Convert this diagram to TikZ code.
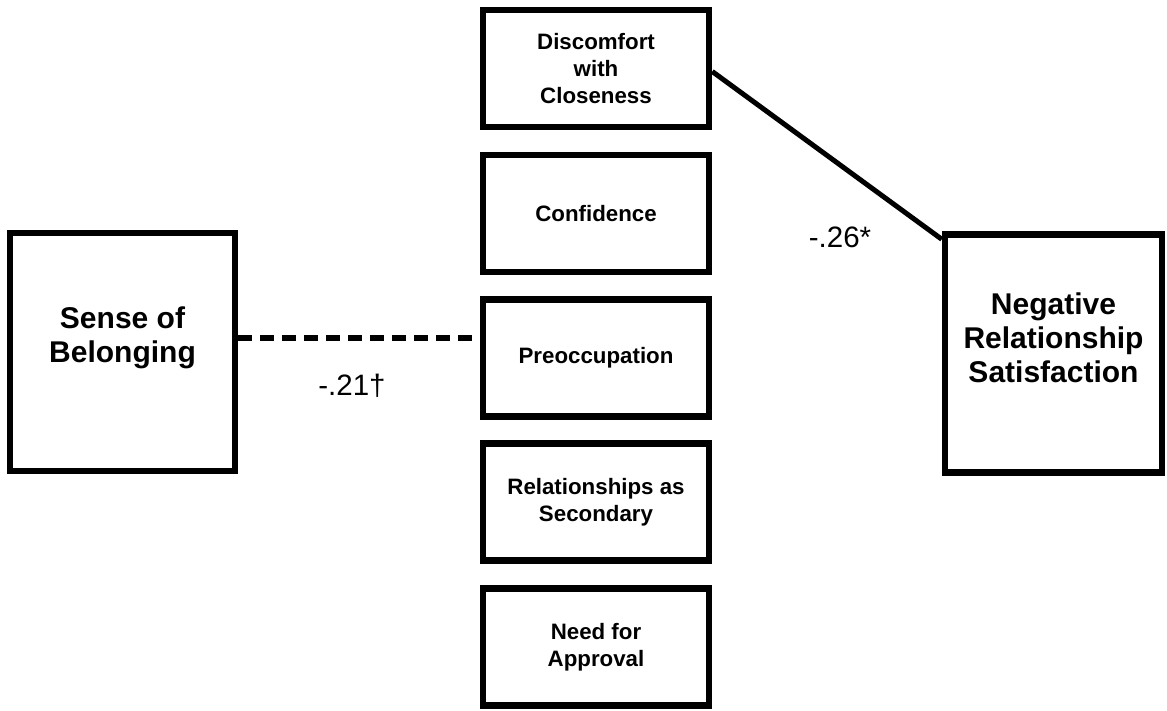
\documentclass[tikz,border=0pt]{standalone}
\usepackage{fontspec}
\setmainfont{Liberation Sans}
\usetikzlibrary{positioning}
\begin{document}
\begin{tikzpicture}[x=1pt,y=-1pt,
	bigbox/.style={ draw, line width=6.5pt, minimum width=225pt, minimum height=238pt, inner sep=0pt },
	midbox/.style={ draw, line width=6.5pt, minimum width=226pt, minimum height=117pt, align=center, font=\fontsize{22.3}{27}\selectfont\bfseries },
	bigtext/.style={ align=center, font=\fontsize{30}{34}\selectfont\bfseries },
	coef/.style={ font=\fontsize{29.5}{34}\selectfont }
]
\useasboundingbox (0,0) rectangle (1167,710);

\node at (122.5,352) (belong) [bigbox,label={[bigtext,yshift=14pt]center:Sense of\\Belonging}] {};
\node at (1053.5,353.5) (negsat) [bigbox,minimum width=217pt,label={[bigtext,yshift=16pt]center:Negative\\Relationship\\Satisfaction}] {};

\node at (596,68.5) (disc) [midbox] {Discomfort\\with\\Closeness};
\node at (596,213.5) (conf) [midbox] {Confidence};
\node at (596,358) (preocc) [midbox] {Preoccupation};
\node at (596,502) (second) [midbox] {Relationships as\\Secondary};
\node at (596,647) (approval) [midbox] {Need for\\Approval};

\draw[line width=6pt,dash pattern=on 14pt off 8pt]
  ([yshift=14pt]belong.east) -- ([yshift=14pt]belong.east -| preocc.west);
\draw[line width=5pt] ([yshift=-3pt]disc.east) -- ([yshift=-8pt]negsat.north west);

\node at (352,386) (coefa) [coef] {-.21†};
\node at (840,237) (coefb) [coef] {-.26*};

\end{tikzpicture}
\end{document}
